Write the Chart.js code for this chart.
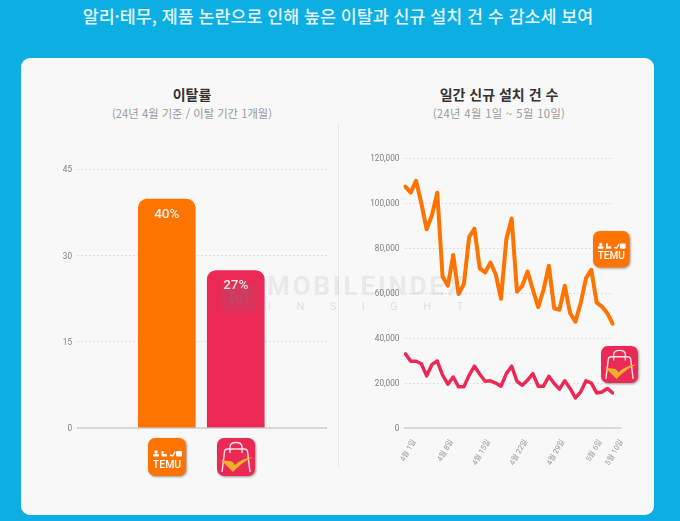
<!DOCTYPE html>
<html lang="ko">
<head>
<meta charset="utf-8">
<title>이탈률 / 일간 신규 설치 건 수</title>
<script src="https://cdn.jsdelivr.net/npm/chart.js@4"></script>
<style>
    html, body { margin: 0; padding: 0; }
    body { width: 680px; height: 521px; overflow: hidden; position: relative; background: #0dafe2; font-family: 'Noto Sans CJK KR', 'Noto Sans', sans-serif; }
    #panel { position: absolute; left: 21px; top: 58px; width: 633px; height: 457px; background: #f8f8f8; border-radius: 9px; }
    .txt { position: absolute; text-align: center; white-space: nowrap; transform: translateX(-50%); }
    #headline { left: 338px; top: 3px; font-size: 17.35px; line-height: 26px; color: #e4f6fc; font-weight: 500; }
    .title { top: 84px; font-size: 14px; line-height: 20px; font-weight: 700; color: #333; }
    .sub { top: 105px; font-size: 11.3px; line-height: 16px; color: #9a9a9a; }
    #divider { position: absolute; left: 338px; top: 123px; width: 1px; height: 344px; background: #e6e6e6; }
    canvas { position: absolute; }
    #barCanvas { left: 40px; top: 150px; }
    #lineCanvas { left: 360px; top: 140px; }
    .icon { position: absolute; filter: drop-shadow(1px 1.5px 1px rgba(0,0,0,.4)); }
    #wmLogo { position: absolute; left: 221px; top: 283px; width: 36px; height: 29px; border-radius: 5px; background: rgba(120,120,130,.13); color: rgba(120,120,130,.22); font: 700 24px/29px Roboto, sans-serif; text-align: center; }
    #wmMain { position: absolute; left: 267px; top: 271px; font: 700 26px/30px Roboto, sans-serif; color: rgba(130,130,130,.13); letter-spacing: 2.9px; }
    #wmSub { position: absolute; left: 268px; top: 299px; font: 400 11px/16px Roboto, sans-serif; color: rgba(130,130,130,.2); letter-spacing: 25.5px; }
</style>
</head>
<body>
<div id="panel"></div>
<div id="headline" class="txt">알리·테무, 제품 논란으로 인해 높은 이탈과 신규 설치 건 수 감소세 보여</div>
<div class="txt title" style="left:192px">이탈률</div>
<div class="txt sub" style="left:192px">(24년 4월 기준 / 이탈 기간 1개월)</div>
<div class="txt title" style="left:499px">일간 신규 설치 건 수</div>
<div class="txt sub" style="left:499px;letter-spacing:.35px">(24년 4월 1일 ~ 5월 10일)</div>
<div id="divider"></div>
<canvas id="barCanvas" width="295" height="320"></canvas>
<canvas id="lineCanvas" width="290" height="330"></canvas>
<div id="wmLogo">M</div>
<div id="wmMain">MOBILEINDEX</div>
<div id="wmSub">INSIGHT</div>

<script>
// data
const apps = ['테무', '알리'];
const churnRates = [39.8, 27.4];
const churnLabels = ['40%', '27%'];
const churnTicks = [0, 15, 30, 45];

const installDates = [
    '4월 1일', '4월 2일', '4월 3일', '4월 4일', '4월 5일', '4월 6일', '4월 7일', '4월 8일', '4월 9일', '4월 10일',
    '4월 11일', '4월 12일', '4월 13일', '4월 14일', '4월 15일', '4월 16일', '4월 17일', '4월 18일', '4월 19일', '4월 20일',
    '4월 21일', '4월 22일', '4월 23일', '4월 24일', '4월 25일', '4월 26일', '4월 27일', '4월 28일', '4월 29일', '4월 30일',
    '5월 1일', '5월 2일', '5월 3일', '5월 4일', '5월 5일', '5월 6일', '5월 7일', '5월 8일', '5월 9일', '5월 10일'
];
const dateTicks = ['4월 1일', '4월 8일', '4월 15일', '4월 22일', '4월 29일', '5월 6일', '5월 10일'];
const temuInstalls = [
    107400, 104700, 110000, 100000, 88400, 94800, 104700, 67400, 63300, 77000,
    59600, 64000, 85000, 88700, 71000, 69200, 73600, 68400, 57500, 84000,
    93200, 60700, 63300, 69600, 61500, 53800, 61500, 72200, 53300, 52600,
    63300, 51100, 47300, 55600, 66700, 70400, 55800, 54000, 51100, 46400
];
const aliInstalls = [
    33000, 29700, 29700, 28600, 23200, 28300, 29800, 23500, 19500, 22700,
    18300, 18300, 23500, 27500, 23900, 20800, 21000, 20000, 18600, 24200,
    27500, 20800, 19000, 21300, 24200, 18600, 18600, 23000, 19800, 17300,
    21000, 17600, 13400, 16100, 21000, 20000, 15600, 16000, 17600, 15600
];

const ORANGE = '#ff7300';
const RED = '#ea2a55';
const GRID = '#e0e0e0';
const TICK = '#808080';
const FONT = "Roboto, 'Noto Sans CJK KR', sans-serif";

// baseline runs past the plot on the right chart, so it is drawn here
const baseline = {
    id: 'baseline',
    afterDatasetsDraw(chart, args, opts) {
        const y = chart.scales.y.getPixelForValue(0);
        const ctx = chart.ctx;
        ctx.save();
        ctx.strokeStyle = '#bdbdbd';
        ctx.lineWidth = 1;
        ctx.beginPath();
        ctx.moveTo(chart.chartArea.left - opts.left, y);
        ctx.lineTo(chart.chartArea.right + opts.right, y);
        ctx.stroke();
        ctx.restore();
    }
};

const barLabels = {
    id: 'barLabels',
    afterDatasetsDraw(chart) {
        const ctx = chart.ctx;
        ctx.save();
        ctx.fillStyle = '#f7f0f0';
        ctx.font = '500 13.5px ' + FONT;
        ctx.textAlign = 'center';
        ctx.textBaseline = 'middle';
        chart.getDatasetMeta(0).data.forEach((bar, i) => {
            ctx.fillText(churnLabels[i], bar.x, bar.y + 15);
        });
        ctx.restore();
    }
};

function yAxis(max, step, labelWidth, padding) {
    return {
        min: 0,
        max: max,
        afterFit: (scale) => { scale.width = labelWidth; },
        grid: { color: GRID, drawTicks: false },
        border: { display: false, dash: [2, 2] },
        ticks: {
            stepSize: step,
            padding: padding,
            labelOffset: 1,
            color: TICK,
            font: { size: 8.2, family: FONT },
            callback: (value) => value.toLocaleString('en-US')
        }
    };
}

new Chart(document.getElementById('barCanvas'), {
    type: 'bar',
    data: {
        datasets: [{
            label: '이탈률',
            data: apps.map((name, i) => ({ x: i + 1, y: churnRates[i] })),
            backgroundColor: [ORANGE, RED],
            barThickness: 57,
            borderSkipped: false,
            borderRadius: { topLeft: 9, topRight: 9, bottomLeft: 0, bottomRight: 0 }
        }]
    },
    options: {
        responsive: false,
        animation: false,
        layout: { padding: { top: 19.3, right: 8, left: 0, bottom: 0 } },
        plugins: { legend: { display: false }, tooltip: { enabled: false }, baseline: { left: 0, right: 0 } },
        scales: {
            x: {
                type: 'linear',
                offset: false,
                min: -0.301,
                max: 3.322,
                afterFit: (scale) => { scale.height = 42; },
                grid: { display: false },
                border: { display: false },
                ticks: { display: false }
            },
            y: yAxis(churnTicks[churnTicks.length - 1], churnTicks[1], 37, 5)
        }
    },
    plugins: [baseline, barLabels]
});

new Chart(document.getElementById('lineCanvas'), {
    type: 'line',
    data: {
        labels: installDates,
        datasets: [
            { label: '테무', data: temuInstalls, borderColor: ORANGE, borderWidth: 4, pointRadius: 0, tension: 0, borderJoinStyle: 'round', borderCapStyle: 'round' },
            { label: '알리', data: aliInstalls, borderColor: RED, borderWidth: 3.5, pointRadius: 0, tension: 0, borderJoinStyle: 'round', borderCapStyle: 'round' }
        ]
    },
    options: {
        responsive: false,
        animation: false,
        layout: { padding: { top: 18.3, right: 37.4, left: 0, bottom: 0 } },
        plugins: { legend: { display: false }, tooltip: { enabled: false }, baseline: { left: 1.5, right: 9 } },
        scales: {
            x: {
                afterFit: (scale) => { scale.height = 42; },
                grid: { display: false },
                border: { display: false },
                ticks: {
                    autoSkip: false,
                    minRotation: 60,
                    maxRotation: 60,
                    padding: 2,
                    labelOffset: 9,
                    color: '#999',
                    font: { size: 7.5, family: FONT },
                    callback: function (value) {
                        const label = this.getLabelForValue(value);
                        return dateTicks.includes(label) ? label : '';
                    }
                }
            },
            y: yAxis(120000, 20000, 45.4, 6)
        }
    },
    plugins: [baseline]
});

// app logos
function temuIcon(x, y, size) {
    return `<svg class="icon" style="left:${x}px;top:${y}px" width="${size}" height="${size}" viewBox="0 0 38 38">
        <rect width="38" height="38" rx="7" fill="${ORANGE}"/>
        <g fill="#fff">
            <circle cx="8" cy="14" r="1.7"/><rect x="5" y="16" width="6" height="2.4" rx="1"/>
            <rect x="13.5" y="13" width="2" height="5.4"/><rect x="15" y="16" width="4" height="2.4"/>
            <rect x="25" y="13" width="1.4" height="5.4" transform="rotate(30 25 16)"/><rect x="22" y="16.6" width="2.4" height="1.6"/>
            <rect x="28" y="13" width="6" height="5.4" rx="1.2"/>
        </g>
        <text x="19" y="29.5" text-anchor="middle" font-family="Roboto, sans-serif" font-size="10.5" font-weight="500" fill="#fff">TEMU</text>
    </svg>`;
}

function aliIcon(x, y, size) {
    return `<svg class="icon" style="left:${x}px;top:${y}px" width="${size}" height="${size}" viewBox="0 0 38 38">
        <rect width="38" height="38" rx="7" fill="${RED}"/>
        <path d="M5 34 L7.5 13.5 Q8 11 10.5 11 L27.5 11 Q30 11 30.5 13.5 L33 34" fill="none" stroke="#fbe3e8" stroke-width="1.4"/>
        <path d="M13 15 L13 9 Q13 4.5 19 4.5 Q25 4.5 25 9 L25 15" fill="none" stroke="#fbe3e8" stroke-width="1.4"/>
        <path d="M4 22 L15 23.5 L18 27 Q25 20 36 19 Q24 25 16 34 Z" fill="#f0b02c"/>
    </svg>`;
}

document.body.insertAdjacentHTML('beforeend',
    temuIcon(148, 438, 38) + aliIcon(217, 438, 38) + temuIcon(593, 231, 36.5) + aliIcon(601, 345.5, 37));
</script>
</body>
</html>
